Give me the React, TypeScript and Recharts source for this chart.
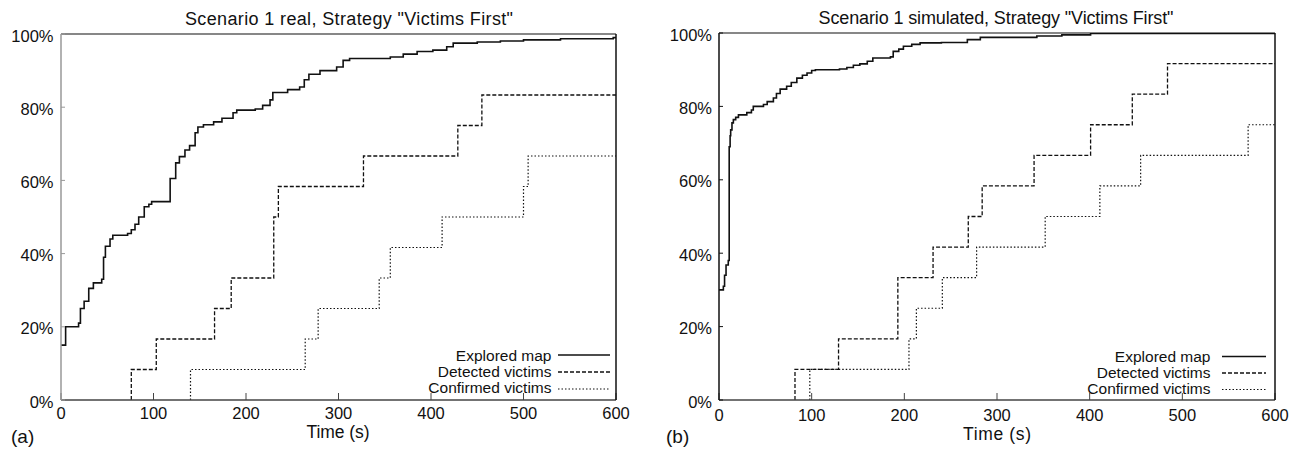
import React from 'react';
import { LineChart, Line, XAxis, YAxis } from 'recharts';

type Pt = { t: number; v: number };

const xTicks: number[] = [0, 100, 200, 300, 400, 500, 600];
const yTicks: number[] = [0, 20, 40, 60, 80, 100];
const seriesNames: string[] = ['Explored map', 'Detected victims', 'Confirmed victims'];

// (a) Scenario 1 real
const realExplored: Pt[] = [
  { t: 0, v: 15 }, { t: 5, v: 20 }, { t: 19, v: 21 }, { t: 21, v: 25 }, { t: 25, v: 27 },
  { t: 30, v: 30.5 }, { t: 35, v: 32 }, { t: 44, v: 33 }, { t: 46, v: 39 }, { t: 48, v: 42 },
  { t: 53, v: 44 }, { t: 56, v: 45 }, { t: 72, v: 45.5 }, { t: 76, v: 46.5 }, { t: 80, v: 48 },
  { t: 84, v: 50 }, { t: 90, v: 52.8 }, { t: 95, v: 53.5 }, { t: 98, v: 54.2 }, { t: 118, v: 60.5 },
  { t: 124, v: 64.8 }, { t: 128, v: 66.5 }, { t: 134, v: 68.3 }, { t: 139, v: 69.5 }, { t: 145, v: 73 },
  { t: 148, v: 74.6 }, { t: 154, v: 75.2 }, { t: 165, v: 76 }, { t: 174, v: 77 }, { t: 186, v: 78.5 },
  { t: 190, v: 79.2 }, { t: 210, v: 79.5 }, { t: 218, v: 80.5 }, { t: 226, v: 82 }, { t: 229, v: 84 },
  { t: 245, v: 84.8 }, { t: 258, v: 85.5 }, { t: 263, v: 87.5 }, { t: 268, v: 89 }, { t: 280, v: 90 },
  { t: 298, v: 91 }, { t: 305, v: 92.8 }, { t: 312, v: 93.3 }, { t: 356, v: 93.7 }, { t: 370, v: 94.5 },
  { t: 385, v: 95.2 }, { t: 402, v: 95.6 }, { t: 417, v: 96.5 }, { t: 424, v: 97.5 }, { t: 450, v: 97.8 },
  { t: 475, v: 98.1 }, { t: 500, v: 98.4 }, { t: 540, v: 98.7 }, { t: 597, v: 99 }, { t: 600, v: 99 },
];
const realDetected: Pt[] = [
  { t: 76, v: 0 }, { t: 76, v: 8.33 }, { t: 103, v: 16.67 }, { t: 166, v: 25 }, { t: 184, v: 33.33 },
  { t: 230, v: 50 }, { t: 235, v: 58.33 }, { t: 327, v: 66.67 }, { t: 429, v: 75 }, { t: 455, v: 83.33 },
  { t: 600, v: 83.33 },
];
const realConfirmed: Pt[] = [
  { t: 140, v: 0 }, { t: 140, v: 8.33 }, { t: 264, v: 16.67 }, { t: 278, v: 25 }, { t: 344, v: 33.33 },
  { t: 356, v: 41.67 }, { t: 412, v: 50 }, { t: 500, v: 58.33 }, { t: 505, v: 66.67 }, { t: 600, v: 66.67 },
];

// (b) Scenario 1 simulated
const simExplored: Pt[] = [
  { t: 0, v: 30 }, { t: 4.7, v: 31 }, { t: 6, v: 34 }, { t: 7.6, v: 36.8 }, { t: 10, v: 38 },
  { t: 11, v: 69 }, { t: 12, v: 72 }, { t: 12.6, v: 73.6 }, { t: 14, v: 75.5 }, { t: 15.5, v: 76.4 },
  { t: 18, v: 77 }, { t: 21, v: 77.7 }, { t: 30, v: 78.3 }, { t: 35, v: 79 }, { t: 37, v: 80 },
  { t: 48, v: 80.5 }, { t: 52, v: 81.3 }, { t: 58.7, v: 82.3 }, { t: 62, v: 83.5 }, { t: 66, v: 84.7 },
  { t: 73, v: 85.5 }, { t: 78, v: 86.5 }, { t: 84, v: 87.7 }, { t: 90, v: 88.5 }, { t: 95, v: 89.1 },
  { t: 100, v: 89.8 }, { t: 104, v: 90 }, { t: 130, v: 90.2 }, { t: 138, v: 90.6 }, { t: 145, v: 91.2 },
  { t: 152, v: 91.6 }, { t: 160, v: 92.3 }, { t: 166, v: 93.2 }, { t: 185, v: 93.5 }, { t: 188, v: 95 },
  { t: 194, v: 95.6 }, { t: 199, v: 96.4 }, { t: 208, v: 96.9 }, { t: 217, v: 97.3 }, { t: 240, v: 97.4 },
  { t: 268, v: 98.2 }, { t: 282, v: 98.8 }, { t: 343, v: 99.2 }, { t: 370, v: 99.5 }, { t: 401, v: 99.9 },
  { t: 600, v: 100 },
];
const simDetected: Pt[] = [
  { t: 82, v: 0 }, { t: 82, v: 8.33 }, { t: 129, v: 16.67 }, { t: 193, v: 33.33 }, { t: 231, v: 41.67 },
  { t: 269, v: 50 }, { t: 284, v: 58.33 }, { t: 340, v: 66.67 }, { t: 401, v: 75 }, { t: 446, v: 83.33 },
  { t: 484, v: 91.67 }, { t: 600, v: 91.67 },
];
const simConfirmed: Pt[] = [
  { t: 98, v: 0 }, { t: 98, v: 8.33 }, { t: 205, v: 16.67 }, { t: 213, v: 25 }, { t: 241, v: 33.33 },
  { t: 278, v: 41.67 }, { t: 352, v: 50 }, { t: 411, v: 58.33 }, { t: 455, v: 66.67 }, { t: 571, v: 75 },
  { t: 600, v: 75 },
];

const FONT = '"Liberation Sans", Arial, Helvetica, sans-serif';
const INK = '#111';

const styles = [
  { strokeWidth: 1.6, dash: undefined as string | undefined },
  { strokeWidth: 1.3, dash: '4 2' },
  { strokeWidth: 1.2, dash: '1.5 2' },
];

type PanelCfg = {
  left: number;
  width: number;
  margin: { top: number; right: number; bottom: number; left: number };
  yAxisWidth: number;
  yTickMargin: number;
  xTickMargin: number;
  leftAxisColor: string;
  series: Pt[][];
};

const panels: PanelCfg[] = [
  {
    left: 0, width: 640,
    margin: { top: 33, right: 23, bottom: 23, left: 0 },
    yAxisWidth: 61, yTickMargin: 11.5, xTickMargin: 25.5,
    leftAxisColor: '#999',
    series: [realExplored, realDetected, realConfirmed],
  },
  {
    left: 650, width: 651,
    margin: { top: 32, right: 25, bottom: 23, left: 0 },
    yAxisWidth: 69, yTickMargin: 11, xTickMargin: 28,
    leftAxisColor: '#111',
    series: [simExplored, simDetected, simConfirmed],
  },
];

const XTick = (props: any) => (
  <text x={props.x} y={props.y} textAnchor="middle" fontSize={16.5} fontFamily={FONT} fill={INK}>
    {props.payload.value}
  </text>
);
const YTick = (props: any) => (
  <text x={props.x} y={props.y + 7.5} textAnchor="end" fontSize={16.5} fontFamily={FONT} fill={INK}>
    {props.payload.value}%
  </text>
);

function Panel({ cfg }: { cfg: PanelCfg }) {
  return (
    <div style={{ position: 'absolute', left: cfg.left, top: 0 }}>
      <LineChart width={cfg.width} height={453} margin={cfg.margin}>
        <XAxis
          xAxisId="b" dataKey="t" type="number" domain={[0, 600]} ticks={xTicks} interval={0}
          allowDataOverflow height={30} tickSize={-7} tickMargin={cfg.xTickMargin} tick={XTick}
          axisLine={{ stroke: '#444', strokeWidth: 1.6 }} tickLine={{ stroke: '#444', strokeWidth: 1 }}
        />
        <XAxis
          xAxisId="top" orientation="top" dataKey="t" type="number" domain={[0, 600]} ticks={xTicks}
          interval={0} allowDataOverflow height={1} tickSize={-5} tick={false}
          axisLine={{ stroke: INK, strokeWidth: 1.2 }} tickLine={{ stroke: INK, strokeWidth: 1 }}
        />
        <YAxis
          yAxisId="l" type="number" domain={[0, 100]} ticks={yTicks} interval={0} allowDataOverflow
          width={cfg.yAxisWidth} tickSize={-4} tickMargin={cfg.yTickMargin} tick={YTick}
          axisLine={{ stroke: cfg.leftAxisColor, strokeWidth: 1.5 }} tickLine={{ stroke: cfg.leftAxisColor, strokeWidth: 1 }}
        />
        <YAxis
          yAxisId="r" orientation="right" type="number" domain={[0, 100]} ticks={yTicks} interval={0}
          allowDataOverflow width={1} tickSize={-4} tick={false}
          axisLine={{ stroke: INK, strokeWidth: 1.5 }} tickLine={{ stroke: INK, strokeWidth: 1 }}
        />
        {cfg.series.map((d, i) => (
          <Line
            key={seriesNames[i]} name={seriesNames[i]} xAxisId="b" yAxisId="l" data={d} dataKey="v"
            type="stepAfter" stroke={INK} strokeWidth={styles[i].strokeWidth}
            strokeDasharray={styles[i].dash} dot={false} activeDot={false} isAnimationActive={false}
          />
        ))}
      </LineChart>
    </div>
  );
}

type Overlay = {
  title: string; titleX: number; titleY: number; titleLen: number;
  axisX: number; axisY: number; axisLen: number;
  tag: string; tagX: number; tagY: number;
  legTextX: number; legLineX1: number; legLineX2: number; legBase: number[]; legLineY: number[];
};

const overlays: Overlay[] = [
  {
    title: 'Scenario 1 real, Strategy "Victims First"', titleX: 349, titleY: 25, titleLen: 328,
    axisX: 338, axisY: 438, axisLen: 63,
    tag: '(a)', tagX: 11, tagY: 443,
    legTextX: 551.5, legLineX1: 558, legLineX2: 610, legBase: [360.5, 377, 393], legLineY: [355, 372, 389],
  },
  {
    title: 'Scenario 1 simulated, Strategy "Victims First"', titleX: 996, titleY: 23.5, titleLen: 355,
    axisX: 997, axisY: 440, axisLen: 68,
    tag: '(b)', tagX: 666, tagY: 443,
    legTextX: 1210.5, legLineX1: 1222, legLineX2: 1266, legBase: [362, 378, 394], legLineY: [356.5, 373, 389.5],
  },
];

export default function App() {
  return (
    <div style={{ position: 'absolute', left: 0, top: 0, width: 1301, height: 453, background: '#fff', overflow: 'hidden' }}>
      {panels.map((p, i) => <Panel key={i} cfg={p} />)}
      <svg width={1301} height={453} style={{ position: 'absolute', left: 0, top: 0, pointerEvents: 'none' }}>
        {overlays.map((o, k) => (
          <g key={k} fontFamily={FONT} fill={INK}>
            <text x={o.titleX} y={o.titleY} textAnchor="middle" fontSize={18} textLength={o.titleLen} lengthAdjust="spacing">{o.title}</text>
            <text x={o.axisX} y={o.axisY} textAnchor="middle" fontSize={17.5} textLength={o.axisLen} lengthAdjust="spacing">Time (s)</text>
            <text x={o.tagX} y={o.tagY} fontSize={19}>{o.tag}</text>
            {seriesNames.map((n, i) => (
              <g key={n}>
                <text x={o.legTextX} y={o.legBase[i]} textAnchor="end" fontSize={15.5}>{n}</text>
                <line x1={o.legLineX1} x2={o.legLineX2} y1={o.legLineY[i]} y2={o.legLineY[i]} stroke={INK}
                  strokeWidth={styles[i].strokeWidth} strokeDasharray={styles[i].dash} />
              </g>
            ))}
          </g>
        ))}
      </svg>
    </div>
  );
}
